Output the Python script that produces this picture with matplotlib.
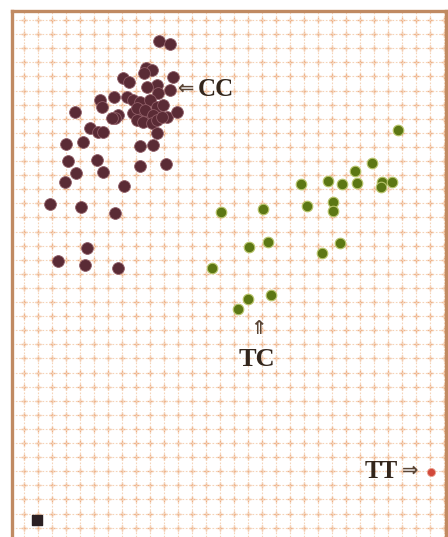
import numpy as np
import matplotlib
matplotlib.use("Agg")
import matplotlib.pyplot as plt

# ---------------------------------------------------------
# Data (positions, pixel-like units)
# ---------------------------------------------------------
cc_x = [159, 170, 146, 152, 144, 173, 123, 129, 157, 147, 170, 158,
        114, 100, 102, 127, 133, 140, 150, 157, 153, 75, 118, 115,
        112, 133, 140, 137, 147, 145, 153, 163, 167, 177, 137, 143,
        152, 157, 162, 90, 98, 103, 157, 83, 66, 140, 153, 68, 97,
        76, 103, 140, 166, 65, 124, 50, 81, 115, 87, 58, 85, 118]
cc_y = [41, 44, 68, 70, 73, 77, 78, 82, 85, 87, 90, 93,
        97, 100, 107, 97, 100, 102, 100, 107, 117, 112, 115, 118,
        118, 113, 110, 108, 113, 110, 115, 105, 117, 112, 120, 122,
        123, 120, 117, 128, 132, 132, 133, 142, 144, 146, 145, 161, 160,
        173, 172, 166, 164, 182, 186, 204, 207, 213, 248, 261, 265, 268]

tc_x = [398, 372, 355, 357, 382, 392, 381, 328, 342, 301, 307, 333,
        333, 263, 221, 212, 249, 268, 322, 340, 238, 248, 271]
tc_y = [130, 163, 171, 183, 182, 182, 187, 181, 184, 184, 206, 202,
        211, 209, 212, 268, 247, 242, 253, 243, 309, 299, 295]

tt_x, tt_y = [431], [472]
ref_x, ref_y = [37], [520]

# ---------------------------------------------------------
# Figure
# ---------------------------------------------------------
fig = plt.figure(figsize=(4.48, 5.37), dpi=100)
fig.patch.set_facecolor("white")
ax = fig.add_axes([12 / 448, 0, 434 / 448, 526 / 537])
ax.set_xlim(12, 446)
ax.set_ylim(537, 11)

frame = "#c08a62"
for side in ["left", "top", "right"]:
    ax.spines[side].set_color(frame)
    ax.spines[side].set_linewidth(2.4)
ax.spines["bottom"].set_visible(False)

# Punktraster
gx = np.arange(24, 446, 14.0)
gy = np.arange(20, 537, 14.1)
ax.set_xticks(gx)
ax.set_yticks(gy)
ax.tick_params(length=0, labelbottom=False, labelleft=False)
ax.grid(True, color="#f5d4b8", linewidth=0.8, linestyle=(0, (1.5, 1.5)))
mx, my = np.meshgrid(gx, gy)
ax.scatter(mx.ravel(), my.ravel(), marker="+", s=14, color="#eeb087",
           linewidths=1.0, zorder=1)

# Cluster
ax.scatter(cc_x, cc_y, s=72, color="#5a2b35", edgecolor="#8f5d66",
           linewidth=0.6, zorder=3)
ax.scatter(tc_x, tc_y, s=58, color="#5c7714", edgecolor="#b8c46a",
           linewidth=0.8, zorder=3)
ax.scatter(tt_x, tt_y, s=34, color="#d2493a", edgecolor="#e9a090",
           linewidth=0.6, zorder=3)
ax.scatter(ref_x, ref_y, s=45, marker="s", color="#2b2023", zorder=3)

# Beschriftungen
font = dict(family=["Liberation Serif", "DejaVu Serif"], fontweight="bold",
            color="#33261c", zorder=4)
arrow = dict(family=["DejaVu Sans"], fontweight="bold", color="#5a4535",
             zorder=4, ha="center", va="center")
ax.text(185, 88, "\u21d0", fontsize=14, **arrow)
ax.text(198, 89, "CC", fontsize=18, ha="left", va="center", **font)
ax.text(258, 329, "\u21d1", fontsize=14, **arrow)
ax.text(257, 360, "TC", fontsize=19, ha="center", va="center", **font)
ax.text(398, 471, "TT", fontsize=18, ha="right", va="center", **font)
ax.text(410, 470, "\u21d2", fontsize=14, **arrow)

fig.savefig("out.png", dpi=100)
